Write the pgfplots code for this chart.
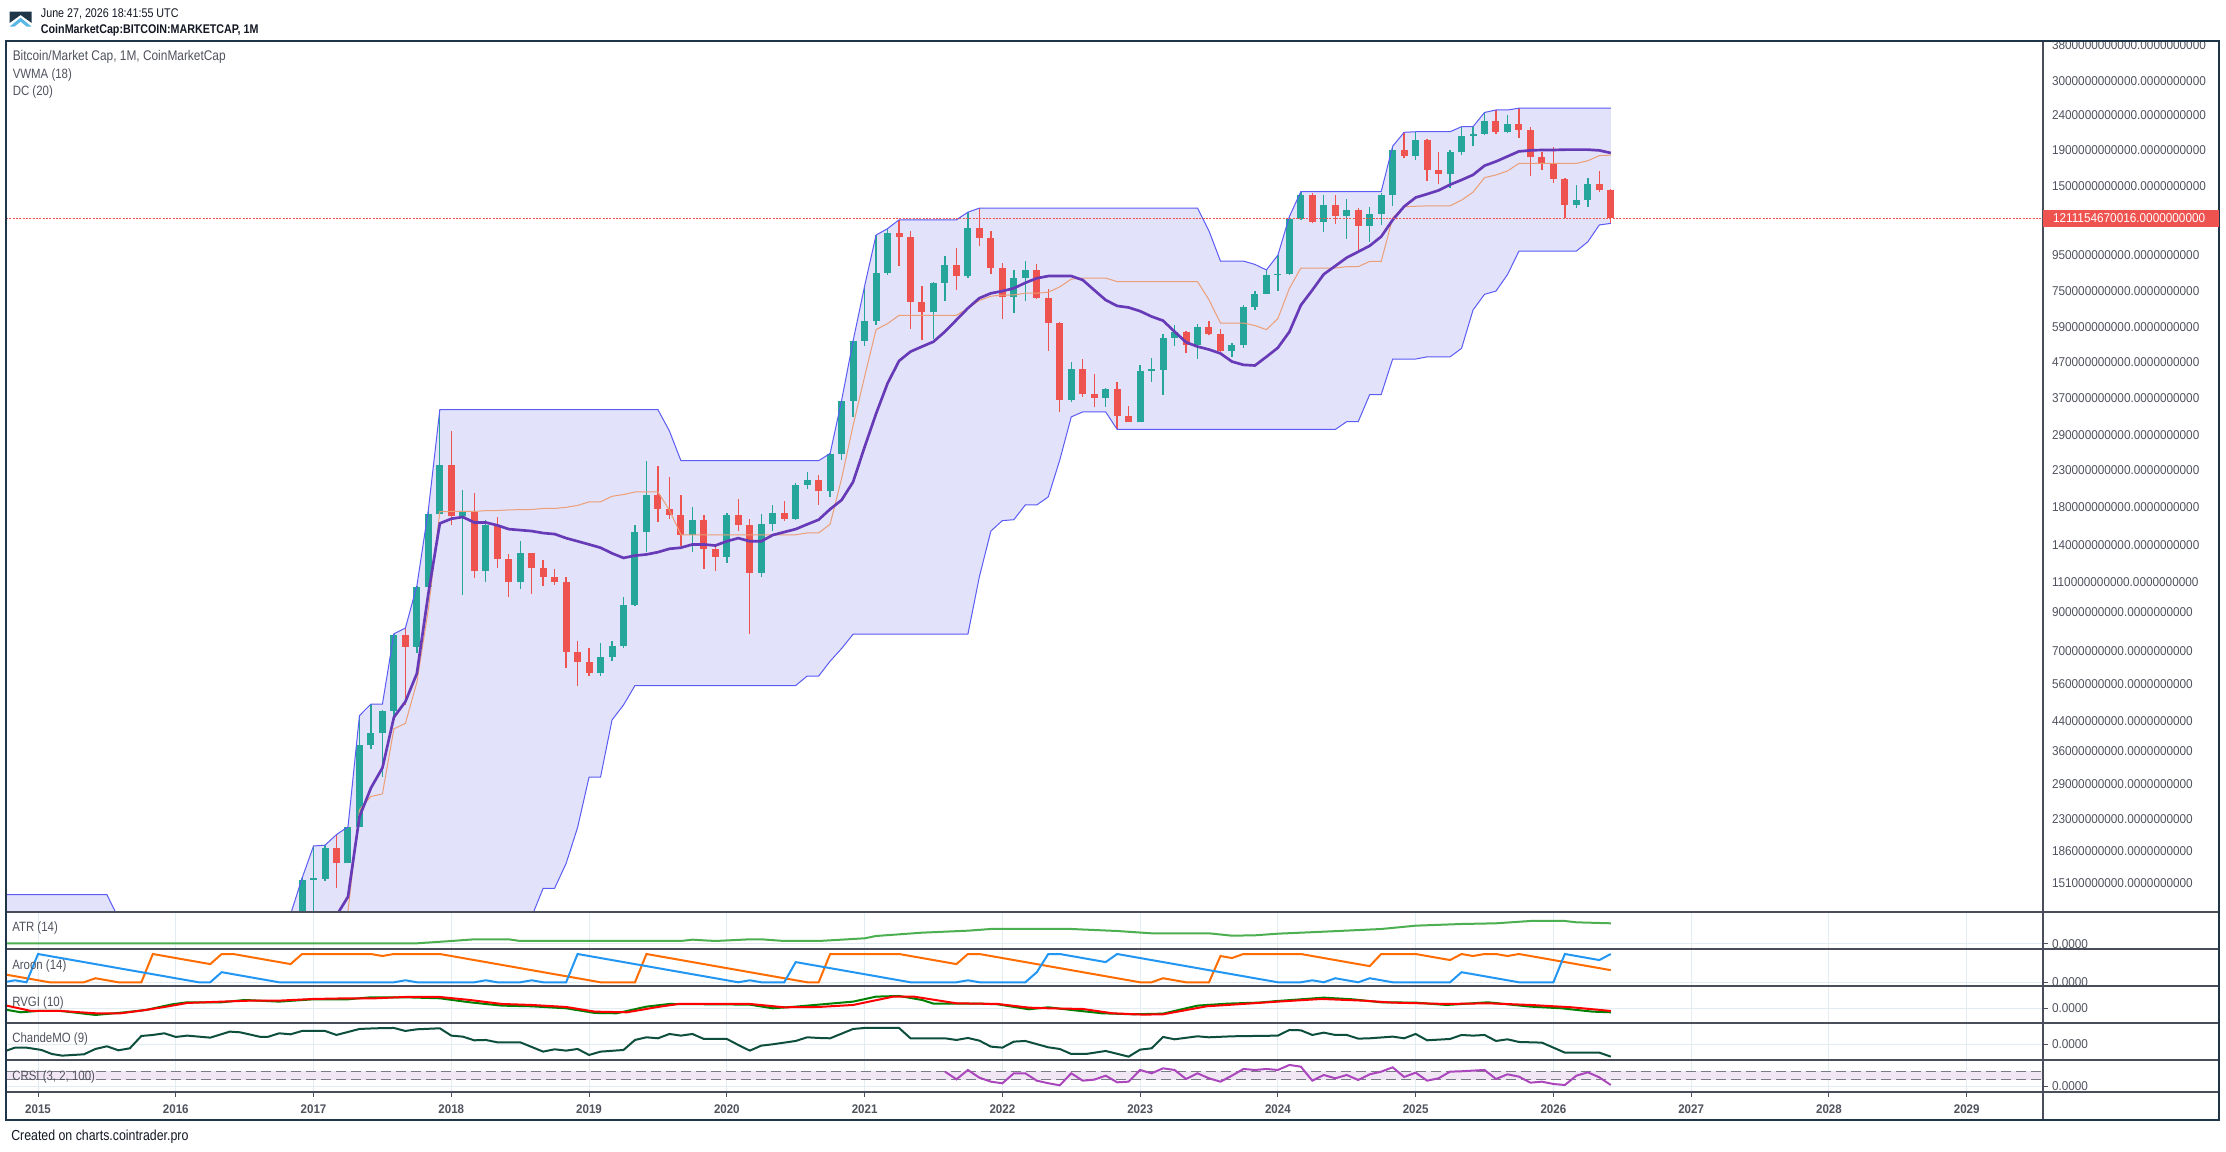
\documentclass[border=0pt]{standalone}
\usepackage{fontspec}
\setmainfont{Liberation Sans}[FakeStretch=0.92]
\newfontfamily\cond{Liberation Sans}[FakeStretch=0.85]
\usepackage{pgfplots}
\usepackage{pgfplotstable}
\pgfplotsset{compat=1.18}
\usepgfplotslibrary{fillbetween}
\tikzset{fill between/on layer=main}

\definecolor{cgreen}{HTML}{26A69A}
\definecolor{cred}{HTML}{EF5350}
\definecolor{vwma}{HTML}{673AB7}
\definecolor{dcline}{HTML}{5B5BF5}
\definecolor{dcfill}{HTML}{D0D0F8}
\definecolor{dcbasis}{HTML}{EC9E76}
\definecolor{gridc}{HTML}{E3ECF1}
\definecolor{sep}{HTML}{4A4E5A}
\definecolor{frame}{HTML}{1F3648}
\definecolor{lbl}{HTML}{50535E}
\definecolor{atr}{HTML}{4CAF50}
\definecolor{aup}{HTML}{FF6D00}
\definecolor{adown}{HTML}{2196F3}
\definecolor{rvgi}{HTML}{008000}
\definecolor{rsig}{HTML}{FF0000}
\definecolor{cmo}{HTML}{0D4F3C}
\definecolor{crsi}{HTML}{AB47BC}
\definecolor{crsiband}{HTML}{F1E6F4}
\definecolor{dashc}{HTML}{787B86}
\definecolor{hdr}{HTML}{131722}
\definecolor{logob}{HTML}{5BB8E6}

\newcommand\pricefont{\fontsize{9.6pt}{9.6pt}\selectfont}
\newcommand\yearfont{\fontsize{9.4pt}{9.4pt}\selectfont\bfseries}

\pgfplotstableread{
m o h l c
23 11.9 15.6 11.7 15.4
24 15.4 19.3 12.1 15.6
25 15.5 19.4 15.3 19.0
27 17.2 21.9 17.2 21.9
28 21.9 45.6 21.8 37.5
29 37.5 49.2 36.7 40.6
30 40.6 47.4 30.4 46.9
31 46.9 78.2 44.3 77.7
33 71.8 107.3 68.9 106.6
34 106.6 177 102 172
35 172 343 171 238
37 170 202 101 175
39 118 166 110 160
42 110 144 105 133
49 60.5 73.5 59.2 67
50 67 74.6 65.3 72
51 72 100 71 94.6
52 94.6 160 94 153
53 153 245 134 195
57 150 180 134 166
60 130 174 125 171
63 117 172 114 161
64 161 183 154 174
66 167 211 166 209
67 209 227 203 216
69 200 257 193 256
70 256 365 246 364
71 364 540 327 538
72 538 775 523 615
73 615 1085 600 845
74 845 1132 834 1100
78 655 795 545 790
79 790 945 704 890
81 826 1262 820 1137
85 723 862 649 818
86 818 914 704 862
90 366 469 360 449
93 371 396 350 393
96 317 460 317 444
97 444 481 413 448
98 446 565 379 550
99 550 600 522 572
101 525 605 479 592
104 504 534 486 525
105 525 684 514 675
106 675 750 662 737
107 737 862 734 836
108 836 950 750 842
109 840 1225 836 1208
110 1208 1445 1199 1416
112 1180 1413 1110 1323
114 1230 1377 1059 1280
116 1155 1310 1038 1245
117 1245 1430 1160 1410
118 1410 1950 1318 1905
120 1830 2145 1781 2032
123 1620 1902 1480 1880
124 1880 2218 1840 2085
125 2085 2212 1950 2110
126 2110 2436 2100 2300
128 2135 2390 2130 2262
134 1323 1510 1300 1368
135 1368 1580 1310 1516
}\green

\pgfplotstableread{
m o h l c
26 19.0 20.8 14.6 17.3
32 77.7 81.2 48.9 71.8
36 238 298 160 170
38 175 198 113 118
40 160 169 121 128
41 128 132 100 110
43 133 133 102 121
44 121 127 107 114
45 114 120 108 110
46 110 114 62.5 69.5
47 69.5 74.6 55.6 65
48 65 71.4 59.2 60.5
54 195 236 164 178
55 178 220 167 171
56 171 195 140 150
58 166 171 120 137
59 137 139 118 130
61 171 190 154 160
62 160 167 78 117
65 174 188 165 167
68 216 223 183 200
75 1100 1200 886 1071
76 1071 1115 584 700
77 700 775 543 655
80 890 995 755 826
82 1137 1296 1011 1062
83 1062 1115 840 873
84 873 903 624 723
87 862 894 712 715
88 715 758 505 608
89 608 612 338 366
91 449 479 374 380
92 380 433 350 371
94 393 412 301 328
95 329 352 317 317
100 572 575 498 525
102 592 614 560 565
103 565 584 493 504
111 1416 1430 1172 1180
113 1323 1413 1165 1230
115 1280 1295 976 1155
119 1905 2137 1800 1830
121 2032 2040 1550 1667
122 1667 1880 1515 1620
127 2300 2476 2120 2135
129 2262 2505 2060 2170
130 2170 2218 1600 1810
131 1810 1880 1667 1740
132 1740 1945 1528 1572
133 1572 1580 1212 1323
136 1516 1655 1445 1461
137 1461 1475 1172 1211.15
}\red

\pgfplotstableread{
m u l b
-3 14.0 2.0 8.0
0 14.0 2.1 8.0
6 14.0 2.1 8.0
7 12.0 2.1 7.0
8 9.5 2.1 5.8
9 8.5 2.1 5.3
10 8.0 2.1 5.0
11 7.5 2.1 4.8
12 7.0 2.1 4.5
15 7.0 2.1 4.5
16 8.5 2.1 5.3
17 12.2 2.4 7.3
18 12.2 2.8 7.5
22 12.3 2.8 7.5
23 15.6 2.8 9.2
24 19.3 2.8 11.0
25 19.4 2.8 11.1
26 20.8 2.8 11.8
27 21.9 3.2 12.55
28 45.6 3.3 24.5
29 49.2 4.3 26.75
30 49.2 5.1 27.2
31 78.2 5.3 41.8
32 81.2 5.4 43.3
33 107.3 6.2 56.8
34 177 6.5 91.8
35 343 6.9 175
36 343 7.6 175.3
37 343 7.6 175.3
38 343 7.6 175.3
39 343 9.3 176.2
40 343 9.5 176.3
41 343 11.2 177.1
42 343 11.7 177.4
43 343 12.1 177.6
44 343 14.6 178.8
45 343 14.6 178.8
46 343 17.2 180.1
47 343 21.8 182.4
48 343 30.4 186.7
49 343 30.4 186.7
50 343 44.3 193.7
51 343 48.9 196.0
52 343 55.6 199.3
53 343 55.6 199.3
54 343 55.6 199.3
55 298 55.6 176.8
56 245 55.6 150.3
66 245 55.6 150.3
67 245 59.2 152.1
68 245 59.2 152.1
69 257 65.3 161.2
70 365 71 218
71 540 78 309
72 775 78 426.5
73 1085 78 581.5
74 1132 78 605
75 1200 78 639
80 1200 78 639
81 1262 78 670
82 1296 114 705
83 1296 154 725
84 1296 165 730.5
85 1296 166 731
86 1296 183 739.5
87 1296 183 739.5
88 1296 193 744.5
89 1296 246 771
90 1296 327 811.5
91 1296 338 817
93 1296 338 817
94 1296 301 798.5
101 1296 301 798.5
102 1115 301 708
103 914 301 607.5
105 914 301 607.5
106 894 301 597.5
107 862 301 581.5
108 950 301 625.5
109 1225 301 763
110 1445 301 873
113 1445 301 873
114 1445 317 881
115 1445 317 881
116 1445 379 912
117 1445 379 912
118 1950 479 1214.5
119 2137 479 1308
120 2145 479 1312
121 2145 486 1315.5
123 2145 486 1315.5
124 2218 514 1366
125 2218 662 1440
126 2436 734 1585
127 2476 750 1613
128 2476 836 1656
129 2505 976 1740.5
134 2505 976 1740.5
135 2505 1038 1771.5
136 2505 1160 1832.5
137 2505 1172 1838.5
}\dc

\pgfplotstableread{
m v
23 8.6
24 9.6
25 10.8
26 12.2
27 13.8
28 23.4
29 28.3
30 32.3
31 45.1
32 50
33 60.2
34 102
35 162
36 167
37 169
38 163
39 163
40 160
41 156
42 155
43 154
44 152
45 151
46 147
47 144
48 141
49 138
50 133
51 129
52 131
53 132
54 134
55 137
56 138
57 141
58 141
59 140
60 144
61 147
62 144
63 144
64 150
65 153
66 156
67 161
68 166
69 178
70 189
71 213
72 268
73 334
74 408
75 473
76 503
77 520
78 537
79 574
80 620
81 670
82 716
83 739
84 750
85 764
86 792
87 816
88 828
89 828
90 828
91 807
92 755
93 707
94 680
95 673
96 657
97 634
98 617
99 574
100 535
101 520
102 510
103 497
104 471
105 461
106 459
107 486
108 516
109 573
110 683
111 755
112 838
113 885
114 935
115 972
116 1011
117 1074
118 1199
119 1310
120 1390
121 1422
122 1457
123 1513
124 1561
125 1614
126 1715
127 1763
128 1823
129 1885
130 1897
131 1902
132 1902
133 1906
134 1906
135 1906
136 1897
137 1865
}\vw

\pgfplotsset{
 panel/.style={
  scale only axis, width=1527.75pt, anchor=south west,
  xmin=-2.79, xmax=174.65,
  axis line style={draw=none},
  xtick={0,12,...,168},
  xmajorgrids=true, ymajorgrids=true,
  major grid style={gridc, line width=0.75pt},
  tick align=outside, major tick length=3.75pt,
  tick style={sep, line width=0.75pt},
  ytick pos=right, yticklabel pos=right,
  yticklabel style={font=\pricefont, text=lbl, anchor=west, inner sep=0pt, xshift=2.8pt},
 },
 candle/.style={draw=none, mark=none},
}

\begin{document}
\begin{tikzpicture}
\begin{scope}[x=0.75pt,y=0.75pt]
\fill[white] (0,0) rectangle (2226,1152);
\useasboundingbox (0,0) rectangle (2226,1152);
\end{scope}

% ---------------- main panel ----------------
\begin{axis}[panel, at={(4.5pt,180pt)}, height=653.25pt,
  ymode=log, ymin=12.483, ymax=3903.6,
  xmajorticks=false,
  ytick={15.1,18.6,23,29,36,44,56,70,90,110,140,180,230,290,370,470,590,750,950,1200,1500,1900,2400,3000,3800},
  yticklabels={15100000000.0000000000,18600000000.0000000000,23000000000.0000000000,29000000000.0000000000,36000000000.0000000000,44000000000.0000000000,56000000000.0000000000,70000000000.0000000000,90000000000.0000000000,110000000000.0000000000,140000000000.0000000000,180000000000.0000000000,230000000000.0000000000,290000000000.0000000000,370000000000.0000000000,470000000000.0000000000,590000000000.0000000000,750000000000.0000000000,950000000000.0000000000,{},1500000000000.0000000000,1900000000000.0000000000,2400000000000.0000000000,3000000000000.0000000000,3800000000000.0000000000},
]
\addplot[draw=none, name path=dcu] table[x=m,y=u]{\dc};
\addplot[draw=none, name path=dcl] table[x=m,y=l]{\dc};
\addplot[fill=dcfill, fill opacity=0.6, draw=none] fill between[of=dcu and dcl];
% wicks
\addplot[candle, error bars/.cd, y dir=plus, y explicit, error mark=none,
  error bar style={draw=cgreen, line width=1pt}]
  table[x=m, y=l, y error plus expr=\thisrow{h}-\thisrow{l}]{\green};
\addplot[candle, error bars/.cd, y dir=plus, y explicit, error mark=none,
  error bar style={draw=cred, line width=1pt}]
  table[x=m, y=l, y error plus expr=\thisrow{h}-\thisrow{l}]{\red};
% bodies
\addplot[candle, error bars/.cd, y dir=plus, y explicit, error mark=none,
  error bar style={draw=cgreen, line width=5.25pt}]
  table[x=m, y=o, y error plus expr=\thisrow{c}-\thisrow{o}]{\green};
\addplot[candle, error bars/.cd, y dir=plus, y explicit, error mark=none,
  error bar style={draw=cred, line width=5.25pt}]
  table[x=m, y=c, y error plus expr=\thisrow{o}-\thisrow{c}]{\red};
% indicators
\addplot[dcline, line width=0.75pt] table[x=m,y=u]{\dc};
\addplot[dcline, line width=0.75pt] table[x=m,y=l]{\dc};
\addplot[dcbasis, line width=0.75pt] table[x=m,y=b]{\dc};
\addplot[vwma, line width=2pt] table[x=m,y=v]{\vw};
\addplot[cred, line width=0.75pt, dash pattern=on 1.5pt off 1pt] coordinates {(-2.79,1211.15) (174.65,1211.15)};
\coordinate (cp) at (axis cs:174.65,1211.15);
\end{axis}

% ---------------- ATR ----------------
\begin{axis}[panel, at={(4.5pt,152.25pt)}, height=27.75pt,
  ymin=-110, ymax=704, ytick={0}, yticklabels={0.0000}, xmajorticks=false]
\addplot[atr, line width=1.5pt] coordinates {(-3,15) (33,15) (36,66) (38,103) (41,103) (42,66) (56,66) (57,95) (59,66) (62,103) (63,103) (65,66) (68,66) (72,125) (73,176) (77,249) (81,293) (83,330) (90,330) (94,286) (97,235) (102,235) (104,183) (106,191) (108,227) (112,271) (117,330) (120,403) (124,440) (127,455) (130,506) (133,506) (134,477) (137,455)};
\end{axis}

% ---------------- Aroon ----------------
\begin{axis}[panel, at={(4.5pt,124.5pt)}, height=27.75pt,
  ymin=-13.1, ymax=117.7, ytick={0}, yticklabels={0.0000}, xmajorticks=false]
\addplot[aup, line width=1.5pt] coordinates {(-3,28.6) (1,0) (4,0) (5,14.3) (7,0) (9,0) (10,100) (15,64.3) (16,100) (17,100) (22,64.3) (23,100) (29,100) (30,92.9) (31,100) (35,100) (49,0) (52,0) (53,100) (67,0) (68,0) (69,100) (75,100) (80,64.3) (81,100) (82,100) (96,0) (97,0) (98,14.3) (100,0) (102,0) (103,92.9) (104,85.7) (105,100) (110,100) (116,57.1) (117,100) (120,100) (123,78.6) (124,100) (125,92.9) (126,100) (127,100) (128,92.9) (129,100) (137,42.9)};
\addplot[adown, line width=1.5pt] coordinates {(-3,0) (-2,7.1) (-1,0) (0,100) (14,0) (15,0) (16,35.7) (21,0) (31,0) (32,7.1) (33,0) (38,0) (39,7.1) (40,0) (42,0) (43,7.1) (44,0) (46,0) (47,100) (61,0) (62,7.1) (63,0) (65,0) (66,71.4) (76,0) (80,0) (81,7.1) (82,0) (86,0) (87,35.7) (88,100) (89,100) (93,71.4) (94,100) (108,0) (110,0) (111,7.1) (112,0) (113,14.3) (115,0) (116,14.3) (118,0) (123,0) (124,35.7) (129,0) (132,0) (133,100) (136,78.6) (137,100)};
\end{axis}

% ---------------- RVGI ----------------
\begin{axis}[panel, at={(4.5pt,96.75pt)}, height=27.75pt,
  ymin=-0.441, ymax=0.669, ytick={0}, yticklabels={0.0000}, xmajorticks=false]
\addplot[rvgi, line width=1.5pt] coordinates {(-3,-0.03) (-1.5,-0.12) (0,-0.08) (2,-0.08) (5,-0.2) (7.6,-0.12) (9.4,-0.05) (11.7,0.12) (13,0.18) (16,0.18) (18,0.25) (21,0.2) (24,0.27) (27,0.27) (29,0.33) (32,0.33) (35,0.3) (37.6,0.18) (40.4,0.08) (43,0.06) (46,0) (48.5,-0.14) (50.4,-0.15) (53,0.05) (55,0.13) (62,0.11) (64,0) (66,0.05) (68,0.11) (71,0.2) (73,0.35) (75,0.37) (77,0.25) (78,0.14) (82,0.14) (83.6,0.12) (86.3,-0.03) (88,0.03) (90,-0.05) (92.7,-0.15) (95.4,-0.18) (98,-0.16) (101,0.08) (103.6,0.14) (106.3,0.17) (108,0.22) (112,0.32) (114.5,0.27) (117,0.18) (120,0.17) (122.7,0.1) (126.3,0.18) (130,0.05) (132.7,0) (135.4,-0.1) (137,-0.12)};
\addplot[rsig, line width=1.5pt] coordinates {(-3,0.10) (-0.6,-0.08) (2,-0.08) (5,-0.15) (7.2,-0.15) (9.4,-0.05) (11.2,0.05) (13,0.16) (16,0.2) (18.5,0.23) (21,0.23) (24,0.28) (27,0.3) (29.4,0.3) (32,0.34) (35,0.34) (37.6,0.25) (40.4,0.13) (43,0.1) (46,0.04) (48.5,-0.1) (51.3,-0.12) (54,0.04) (55.8,0.13) (62,0.13) (65,0.03) (68,0.04) (71,0.1) (74.5,0.35) (76.3,0.35) (80,0.15) (83.6,0.13) (86.3,0.02) (88,0) (91,-0.02) (93.6,-0.15) (96.3,-0.19) (98,-0.18) (101.8,0.06) (104.5,0.12) (108,0.2) (111.8,0.28) (115.4,0.23) (118,0.17) (122.7,0.13) (126.3,0.15) (130,0.1) (133.6,0.03) (137,-0.08)};
\end{axis}

% ---------------- ChandeMO ----------------
\begin{axis}[panel, at={(4.5pt,69pt)}, height=27.75pt,
  ymin=-47.1, ymax=63.9, ytick={0}, yticklabels={0.0000}, xmajorticks=false]
\addplot[cmo, line width=1.5pt] coordinates {(-3,-22) (-2,-10) (-1,-10) (0.3,-17) (1.2,-29) (2.1,-34) (4,-30) (5,-14) (6,-6) (7,-18) (8,-12) (9,25) (10,28) (11,33) (12,22) (13,26) (15,20) (16.7,38) (17.6,36) (19.4,22) (20,22) (21,33) (22,30) (23,40) (25,40) (26,28) (28,46) (29.4,48) (31,49) (32,40) (33,45) (35,48) (36,26) (37,23) (38,12) (39,13) (40,6) (42,6) (44,-22) (45,-15) (46,-19) (47,-14) (48,-32) (49,-22) (51,-17) (52,13) (53,21) (54,18) (55,31) (56,26) (57,31) (58,16) (60,16) (61,-2) (62,-19) (63,-4) (64,0) (66,10) (67,21) (68,19) (69,18) (71,46) (72,49) (75,49) (76,18) (79,18) (80,13) (81,19) (82,11) (83,-7) (84,-10) (85,8) (86,10) (88,-9) (89,-14) (90,-29) (91.3,-29) (93,-20) (95,-37) (96,-16) (97,-12) (98,22) (99,15) (101,24) (102,21) (104,24) (108,26) (109,43) (110,42) (111,28) (112,35) (113,28) (114,28) (115,17) (116,18) (118,23) (119,18) (120,31) (121,12) (123,16) (124,28) (125,26) (126,28) (127,10) (128,15) (129,7) (131,5) (133,-25) (136,-25) (137,-37)};
\end{axis}

% ---------------- CRSI ----------------
\begin{axis}[panel, at={(4.5pt,45pt)}, height=24pt,
  ymin=-25.3, ymax=121.8, ytick={0}, yticklabels={0.0000},
  xtick pos=bottom,
  xticklabels={2015,2016,2017,2018,2019,2020,2021,2022,2023,2024,2025,2026,2027,2028,2029},
  xticklabel style={font=\yearfont, text=lbl, anchor=north, inner sep=0pt, yshift=-5.6pt}]
\addplot[draw=none, fill=crsiband] coordinates {(-2.79,30) (174.65,30) (174.65,70) (-2.79,70)} -- cycle;
\addplot[dashc, line width=0.75pt, dash pattern=on 7.5pt off 3.75pt] coordinates {(-2.79,70) (174.65,70)};
\addplot[dashc, line width=0.75pt, dash pattern=on 7.5pt off 3.75pt] coordinates {(-2.79,30) (174.65,30)};
\addplot[crsi, line width=1.5pt] coordinates {(79,68.2) (80,33.0) (81,75.9) (82,40.6) (83,22.2) (84,14.6) (85,60.6) (86,60.6) (87,26.8) (88,15) (89,5.4) (90,60.6) (91,26.8) (92,31.4) (93,49.8) (94,19.2) (95,22.2) (96,75.9) (97,60.6) (98,83.5) (99,75.9) (100,34.5) (101,60.6) (102,37.6) (103,22.2) (104,50) (105,80.5) (106,75.9) (107,80.5) (108,75.9) (109,98.9) (110,91.2) (111,26.8) (112,52.9) (113,37.6) (114,52.9) (115,29.9) (116,56.0) (117,68.2) (118,88.1) (119,43.7) (120,63.6) (121,26.8) (122,37.6) (123,68.2) (124,70) (125,73) (126,75.9) (127,34.5) (128,56.0) (129,45.2) (130,17.6) (131,22.2) (132,11.5) (133,6.9) (134,49.8) (135,65.1) (136,42.1) (137,6.9)};
\end{axis}

% ---------------- frame, separators, texts ----------------
\begin{scope}[x=0.75pt,y=0.75pt]
\foreach \yy in {240,203,166,129,92,60} \draw[sep, line width=1pt] (6,\yy) -- (2219,\yy);
\draw[sep, line width=1pt] (2043,32) -- (2043,1111);
\draw[frame, line width=2pt] (6,32) rectangle (2219,1111);
\fill[cred] ([yshift=-6.65pt]cp) rectangle ([xshift=132pt,yshift=6.65pt]cp);
\node[anchor=west, inner sep=0pt, text=white, font=\pricefont] at ([xshift=7.3pt]cp) {1211154670016.0000000000};
% logo
\fill[frame] (9.5,1140.3) -- (31.7,1140.3) -- (31.7,1129) -- (20.6,1137) -- (9.5,1129) -- cycle;
\fill[logob] (9.5,1125.3) -- (20.6,1134.3) -- (31.7,1125.3) -- (26.8,1125.3) -- (20.6,1130.3) -- (14.4,1125.3) -- cycle;
\node[anchor=base west, inner sep=0pt, text=hdr] at (40.7,1134.5) {\cond\fontsize{9.45pt}{9.45pt}\selectfont June 27, 2026 18:41:55 UTC};
\node[anchor=base west, inner sep=0pt, text=hdr] at (40.7,1118.8) {\cond\fontsize{9.45pt}{9.45pt}\selectfont\bfseries CoinMarketCap:BITCOIN:MARKETCAP, 1M};
\node[anchor=west, inner sep=0pt, text=lbl] at (12.5,1095) {\cond\fontsize{10.5pt}{10.5pt}\selectfont Bitcoin/Market Cap, 1M, CoinMarketCap};
\node[anchor=west, inner sep=0pt, text=lbl] at (12.5,1077) {\cond\fontsize{10.1pt}{10.1pt}\selectfont VWMA (18)};
\node[anchor=west, inner sep=0pt, text=lbl] at (12.5,1059.5) {\cond\fontsize{10.1pt}{10.1pt}\selectfont DC (20)};
\node[anchor=west, inner sep=0pt, text=lbl] at (12,224) {\cond\fontsize{10.1pt}{10.1pt}\selectfont ATR (14)};
\node[anchor=west, inner sep=0pt, text=lbl] at (12,186) {\cond\fontsize{10.1pt}{10.1pt}\selectfont Aroon (14)};
\node[anchor=west, inner sep=0pt, text=lbl] at (12,149) {\cond\fontsize{10.1pt}{10.1pt}\selectfont RVGI (10)};
\node[anchor=west, inner sep=0pt, text=lbl] at (12,113) {\cond\fontsize{10.1pt}{10.1pt}\selectfont ChandeMO (9)};
\node[anchor=west, inner sep=0pt, text=lbl] at (12,75) {\cond\fontsize{10.1pt}{10.1pt}\selectfont CRSI (3, 2, 100)};
\node[anchor=west, inner sep=0pt, text=hdr] at (11,15) {\cond\fontsize{10.9pt}{10.9pt}\selectfont Created on charts.cointrader.pro};
\end{scope}
\end{tikzpicture}
\end{document}
